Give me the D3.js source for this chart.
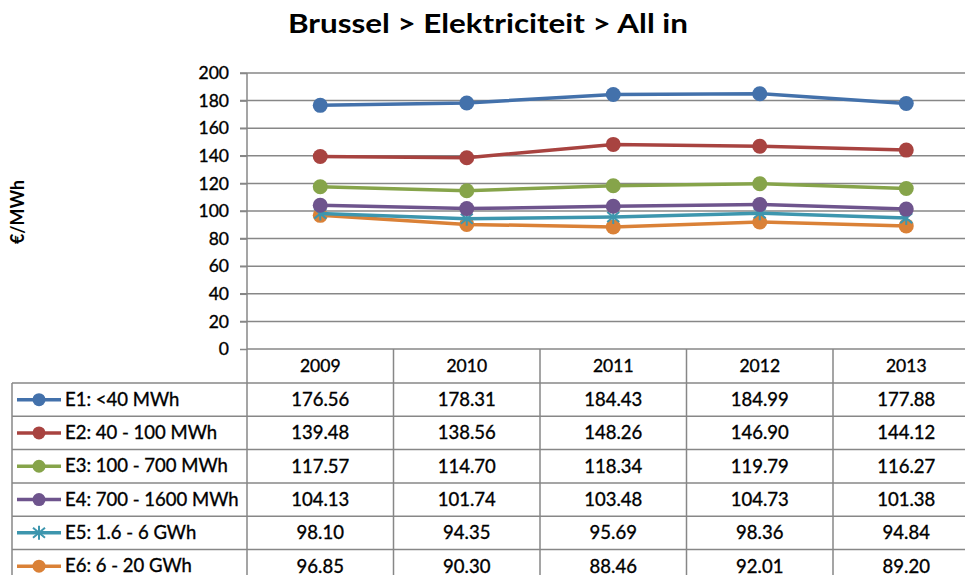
<!DOCTYPE html>
<html>
<head>
<meta charset="utf-8">
<script src="https://cdn.jsdelivr.net/npm/d3@7"></script>
<style>
  body { margin: 0; background: #fff; }
  svg { display: block; font-family: Lato, "Open Sans", sans-serif; }
  .txt { stroke: #000; stroke-width: 0.35px; fill: #000; }
</style>
</head>
<body>
<div id="chart"></div>
<script>
// Data
const years = ['2009', '2010', '2011', '2012', '2013']
const seriesNames = ['E1: <40 MWh', 'E2: 40 - 100 MWh', 'E3: 100 - 700 MWh',
    'E4: 700 - 1600 MWh', 'E5: 1.6 - 6 GWh', 'E6: 6 - 20 GWh']
const e1 = [176.56, 178.31, 184.43, 184.99, 177.88]
const e2 = [139.48, 138.56, 148.26, 146.90, 144.12]
const e3 = [117.57, 114.70, 118.34, 119.79, 116.27]
const e4 = [104.13, 101.74, 103.48, 104.73, 101.38]
const e5 = [98.10, 94.35, 95.69, 98.36, 94.84]
const e6 = [96.85, 90.30, 88.46, 92.01, 89.20]
const yTicks = [0, 20, 40, 60, 80, 100, 120, 140, 160, 180, 200]
const colors = ['#4371ab', '#a84340', '#86a44a', '#6e548d', '#3d96ae', '#da8137']

const series = [e1, e2, e3, e4, e5, e6].map((values, i) => ({
    name: seriesNames[i], values: values, color: colors[i], star: i === 4
}))

// Layout
const width = 965
const height = 575
const plot = { left: 247, top: 73, bottom: 349, right: 979.5 }
const tableLeft = 12
const headerH = 34
const rowH = 33.3
const gridColor = '#878787'
const starPath = 'M0,-7L0,7M-6,-5L6,5M-6,5L6,-5'

const svg = d3.select('#chart').append('svg')
    .attr('width', width)
    .attr('height', height)

// Scales
const x = d3.scaleBand().domain(years).range([plot.left, plot.right])
const y = d3.scaleLinear().domain([0, 200]).range([plot.bottom, plot.top])
const cx = d => x(d) + x.bandwidth() / 2

// Title
svg.append('text')
    .attr('x', 488).attr('y', 33)
    .attr('text-anchor', 'middle')
    .attr('textLength', 400).attr('lengthAdjust', 'spacingAndGlyphs')
    .style('font-size', '26px').style('font-weight', 'bold')
    .text('Brussel > Elektriciteit > All in')

// Y label
svg.append('text')
    .attr('transform', 'translate(24, 212) rotate(-90)')
    .attr('text-anchor', 'middle')
    .attr('textLength', 64).attr('lengthAdjust', 'spacingAndGlyphs')
    .style('font-size', '18px').style('font-weight', 'bold')
    .text('€/MWh')

// Gridlines
svg.append('g').selectAll('line')
    .data(yTicks.filter(d => d > 0))
    .join('line')
    .attr('x1', plot.left - 7).attr('x2', width)
    .attr('y1', d => y(d)).attr('y2', d => y(d))
    .attr('stroke', gridColor).attr('stroke-width', 1.5)

// Y axis
const yAxis = d3.axisLeft(y).tickValues(yTicks).tickSize(7).tickPadding(11)
const yAxisGroup = svg.append('g')
    .attr('transform', `translate(${plot.left}, 0)`)
    .call(yAxis)
yAxisGroup.select('.domain').remove()
yAxisGroup.selectAll('line').attr('stroke', gridColor).attr('stroke-width', 1.5)
yAxisGroup.selectAll('text')
    .attr('class', 'txt')
    .style('font-size', '17.5px').style('font-family', 'Lato, sans-serif')

// Table grid
const table = svg.append('g')
const rowTop = i => plot.bottom + headerH + i * rowH
table.append('line')
    .attr('x1', plot.left).attr('x2', width)
    .attr('y1', plot.bottom).attr('y2', plot.bottom)
    .attr('stroke', gridColor).attr('stroke-width', 1.5)
table.selectAll('.hrow')
    .data(d3.range(series.length + 1))
    .join('line')
    .attr('x1', tableLeft).attr('x2', width)
    .attr('y1', i => rowTop(i)).attr('y2', i => rowTop(i))
    .attr('stroke', gridColor).attr('stroke-width', 1.5)
table.append('line')
    .attr('x1', tableLeft).attr('x2', tableLeft)
    .attr('y1', rowTop(0)).attr('y2', height)
    .attr('stroke', gridColor).attr('stroke-width', 1.5)
table.append('line')
    .attr('x1', plot.left).attr('x2', plot.left)
    .attr('y1', plot.top).attr('y2', height)
    .attr('stroke', gridColor).attr('stroke-width', 1.5)
table.selectAll('.vcol')
    .data(years.slice(1))
    .join('line')
    .attr('x1', d => x(d)).attr('x2', d => x(d))
    .attr('y1', plot.bottom).attr('y2', height)
    .attr('stroke', gridColor).attr('stroke-width', 1.5)

// Header years
table.selectAll('.year')
    .data(years)
    .join('text')
    .attr('class', 'txt')
    .attr('x', d => cx(d))
    .attr('y', plot.bottom + headerH / 2 + 6)
    .attr('text-anchor', 'middle')
    .style('font-size', '17.5px')
    .text(d => d)

// Table rows
const rows = table.selectAll('.row')
    .data(series)
    .join('g')
    .attr('transform', (d, i) => `translate(0, ${rowTop(i) + rowH / 2})`)

rows.append('line')
    .attr('x1', 17).attr('x2', 61)
    .attr('stroke', d => d.color).attr('stroke-width', 3.5)
rows.each(function(d) {
    const g = d3.select(this)
    if (d.star) {
        g.append('path')
            .attr('transform', 'translate(39, 0)')
            .attr('d', starPath)
            .attr('stroke', d.color).attr('stroke-width', 2).attr('fill', 'none')
    } else {
        g.append('circle').attr('cx', 39).attr('r', 6.5).attr('fill', d.color)
    }
})
rows.append('text')
    .attr('class', 'txt')
    .attr('x', 65).attr('y', 6)
    .style('font-size', '18.5px')
    .text(d => d.name)
rows.selectAll('.val')
    .data(d => d.values.map((v, j) => ({ v: v, year: years[j] })))
    .join('text')
    .attr('class', 'txt')
    .attr('x', d => cx(d.year))
    .attr('y', 6.5)
    .attr('text-anchor', 'middle')
    .style('font-size', '18.5px')
    .text(d => d.v.toFixed(2))

// Lines and markers
const line = d3.line()
    .x((d, j) => cx(years[j]))
    .y(d => y(d))

const lines = svg.append('g')
series.slice().reverse().forEach(s => {
    lines.append('path')
        .datum(s.values)
        .attr('d', line)
        .attr('fill', 'none')
        .attr('stroke', s.color)
        .attr('stroke-width', 3.5)
    if (s.star) {
        lines.selectAll(null)
            .data(s.values)
            .join('path')
            .attr('transform', (d, j) => `translate(${cx(years[j])}, ${y(d)})`)
            .attr('d', starPath)
            .attr('stroke', s.color).attr('stroke-width', 2).attr('fill', 'none')
    } else {
        lines.selectAll(null)
            .data(s.values)
            .join('circle')
            .attr('cx', (d, j) => cx(years[j]))
            .attr('cy', d => y(d))
            .attr('r', 7.5)
            .attr('fill', s.color)
    }
})
</script>
</body>
</html>
